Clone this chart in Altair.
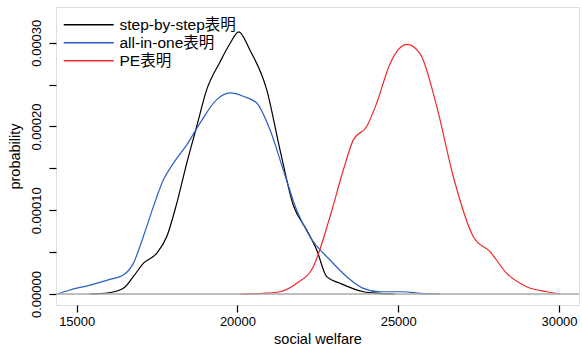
import altair as alt
import pandas as pd

# step-by-step
sbs_x = [15400, 16000, 16450, 16760, 17071, 17488, 17799, 18110, 18421, 18732, 19043, 19457, 19768, 20040,
         20390, 20909, 21323, 21737, 22154, 22465, 22776, 23190, 23914, 24434, 24900]
sbs_y = [0.0, 0.0000015, 0.0000068, 0.0000207, 0.0000366, 0.0000486, 0.0000684, 0.000108, 0.000156, 0.000200,
         0.000244, 0.000277, 0.000299, 0.000313, 0.000291, 0.000244, 0.000172, 0.000106, 0.0000764, 0.0000525,
         0.0000207, 0.0000128, 0.0000027, 0.0000008, 0.0]

# all-in-one
aio_x = [14400, 14791, 15413, 16036, 16450, 16760, 17071, 17382, 17693, 18004, 18421, 18835, 19354, 19768,
         20182, 20599, 21012, 21426, 21843, 22256, 22878, 23398, 23914, 24434, 25158, 25678, 26300]
aio_y = [0.0, 0.0000048, 0.0000107, 0.0000175, 0.0000227, 0.0000366, 0.0000684, 0.000104, 0.000136, 0.000156,
         0.000178, 0.000204, 0.000232, 0.000240, 0.000236, 0.000228, 0.000196, 0.000148, 0.000100, 0.0000684,
         0.0000406, 0.0000207, 0.0000068, 0.0000027, 0.0000027, 0.0000008, 0.0]

# PE
pe_x = [20100, 20800, 21323, 21843, 22359, 22878, 23292, 23603, 24020, 24331, 24745, 25264, 25678, 26197,
        26714, 27336, 27855, 28375, 28996, 29618, 30032]
pe_y = [0.0, 0.0000008, 0.0000027, 0.0000128, 0.0000326, 0.0000923, 0.000148, 0.000184, 0.000200, 0.000228,
        0.000275, 0.000298, 0.000287, 0.000224, 0.000140, 0.0000684, 0.0000505, 0.0000247, 0.0000087,
        0.0000027, 0.0]

names = ["step-by-step表明", "all-in-one表明", "PE表明"]
colors = ["#000000", "#2a5fc4", "#f02828"]

rows = []
for name, xs, ys in zip(names, [sbs_x, aio_x, pe_x], [sbs_y, aio_y, pe_y]):
    for i, (a, b) in enumerate(zip(xs, ys)):
        rows.append({"series": name, "welfare": a, "prob": b, "order": i})
df = pd.DataFrame(rows)

FONT = "Liberation Sans, Noto Sans CJK JP"

xscale = alt.Scale(domain=[14356, 30622], nice=False, zero=False)
yscale = alt.Scale(domain=[-0.0000131, 0.0003426], nice=False, zero=False)

yticks = [0, 0.00005, 0.0001, 0.00015, 0.0002, 0.00025, 0.0003]

lines = alt.Chart(df).mark_line(interpolate="monotone", strokeWidth=1.2).encode(
    x=alt.X("welfare:Q", scale=xscale,
            axis=alt.Axis(values=[15000, 20000, 25000, 30000], format="d", title="social welfare",
                          grid=False, domain=False, tickColor="black", tickSize=7, tickWidth=1.2,
                          labelFontSize=13, labelPadding=3, titleFontSize=14.5, titleFontWeight="normal",
                          titlePadding=4, labelFont=FONT, titleFont=FONT, labelColor="black",
                          titleColor="black")),
    y=alt.Y("prob:Q", scale=yscale,
            axis=alt.Axis(values=yticks, title="probability", grid=False, domain=False,
                          labelExpr="round(datum.value*100000) % 10 == 0 ? format(datum.value, '.5f') : ''",
                          labelAngle=270, labelAlign="center", labelBaseline="bottom",
                          tickColor="black", tickSize=7, tickWidth=1.2, labelFontSize=13, labelPadding=6,
                          titleFontSize=14.5, titleFontWeight="normal", titlePadding=8, labelFont=FONT,
                          titleFont=FONT, labelColor="black", titleColor="black")),
    color=alt.Color("series:N", scale=alt.Scale(domain=names, range=colors),
                    legend=alt.Legend(title=None, orient="none", legendX=25, legendY=10,
                                      symbolType="M-5,0H5", symbolSize=100, symbolStrokeWidth=1.3,
                                      labelFontSize=15.5, labelFont=FONT, labelColor="black",
                                      rowPadding=1, labelOffset=23, symbolOffset=0)),
    order="order:Q",
)

base = pd.DataFrame({"y": [0.0]})
baseline = alt.Chart(base).mark_rule(color="#aaaaaa", strokeWidth=1.5).encode(
    y=alt.Y("y:Q", scale=yscale), x=alt.value(0), x2=alt.value(523)
)

chart = alt.layer(lines, baseline).properties(
    width=523, height=298,
    autosize=alt.AutoSizeParams(type="none"),
    padding={"left": 56, "top": 7, "right": 3, "bottom": 49},
).configure_view(stroke="black", strokeWidth=1.5).configure(background="white")

chart.save("out.html", embed_options={"renderer": "svg", "actions": False})
